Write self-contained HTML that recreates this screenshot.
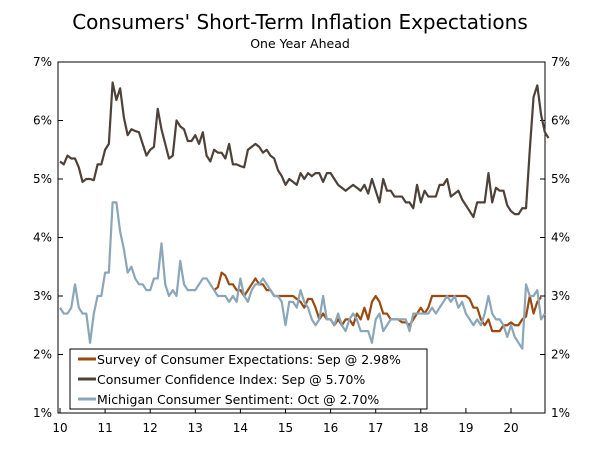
<!DOCTYPE html>
<html><head><meta charset="utf-8"><style>
body{margin:0;background:#fff;}
svg{font-family:"DejaVu Sans","Liberation Sans",sans-serif;}
</style></head><body>
<svg id="c" width="600" height="449">
<text x="300" y="29" text-anchor="middle" font-size="20" fill="#000">Consumers' Short-Term Inflation Expectations</text>
<text x="300" y="48" text-anchor="middle" font-size="12.5" fill="#000">One Year Ahead</text>
<g id="axes"></g><g id="series"></g>
<g>
<rect x="70" y="349" width="357" height="60" fill="#fff" stroke="#000" stroke-width="1"/>
<line x1="78" y1="359" x2="96" y2="359" stroke="#9a4a0f" stroke-width="3"/>
<text x="97" y="364" font-size="12.5">Survey of Consumer Expectations: Sep @ 2.98%</text>
<line x1="78" y1="379" x2="96" y2="379" stroke="#4d4139" stroke-width="3"/>
<text x="97" y="384" font-size="12.5">Consumer Confidence Index: Sep @ 5.70%</text>
<line x1="78" y1="399" x2="96" y2="399" stroke="#8aa6b8" stroke-width="3"/>
<text x="97" y="404" font-size="12.5">Michigan Consumer Sentiment: Oct @ 2.70%</text>
</g>
</svg>
<script>
const yTicks=[1,2,3,4,5,6,7];
const xTicks=[10,11,12,13,14,15,16,17,18,19,20];
const cciValues=[5.3,5.25,5.4,5.35,5.35,5.2,4.95,5.0,5.0,4.98,5.25,5.25,
5.5,5.6,6.65,6.35,6.55,6.05,5.75,5.85,5.82,5.8,5.6,5.4,
5.5,5.55,6.2,5.85,5.6,5.35,5.4,6.0,5.9,5.85,5.65,5.65,
5.75,5.6,5.8,5.4,5.3,5.5,5.45,5.45,5.35,5.6,5.25,5.25,
5.22,5.2,5.5,5.55,5.6,5.55,5.45,5.5,5.4,5.35,5.15,5.05,
4.9,5.0,4.95,4.9,5.1,5.0,5.1,5.05,5.1,5.1,4.95,5.1,
5.1,5.0,4.9,4.85,4.8,4.85,4.9,4.85,4.8,4.9,4.75,5.0,
4.8,4.6,5.0,4.8,4.8,4.7,4.7,4.7,4.6,4.6,4.5,4.9,
4.6,4.8,4.7,4.7,4.7,4.9,4.9,5.0,4.7,4.75,4.8,4.65,
4.55,4.45,4.35,4.6,4.6,4.6,5.1,4.6,4.85,4.8,4.8,4.55,
4.45,4.4,4.4,4.5,4.5,5.5,6.4,6.6,6.1,5.8,5.7];
const michValues=[2.8,2.7,2.7,2.8,3.2,2.8,2.7,2.7,2.2,2.7,3.0,3.0,
3.4,3.4,4.6,4.6,4.1,3.8,3.4,3.5,3.3,3.2,3.2,3.1,
3.1,3.3,3.3,3.9,3.2,3.0,3.1,3.0,3.6,3.2,3.1,3.1,
3.1,3.2,3.3,3.3,3.2,3.1,3.0,3.0,3.0,2.9,3.0,2.9,
3.3,3.0,2.9,3.1,3.2,3.2,3.3,3.2,3.1,3.0,3.0,2.9,
2.5,2.9,2.9,2.8,3.1,2.9,2.8,2.6,2.5,2.6,3.0,2.6,
2.6,2.5,2.7,2.5,2.4,2.6,2.7,2.6,2.4,2.4,2.4,2.2,
2.6,2.7,2.4,2.5,2.6,2.6,2.6,2.6,2.6,2.4,2.7,2.7,
2.7,2.7,2.7,2.8,2.7,2.8,2.9,3.0,2.9,3.0,2.8,2.9,
2.7,2.6,2.5,2.6,2.5,2.7,3.0,2.7,2.6,2.6,2.5,2.3,
2.5,2.3,2.2,2.1,3.2,3.0,3.0,3.1,2.6,2.7];
const sceStart=41;
const sceValues=[3.1,3.15,3.4,3.35,3.2,3.2,3.1,
3.1,3.0,3.1,3.2,3.3,3.2,3.2,3.1,3.1,3.0,3.0,3.0,
3.0,3.0,3.0,2.95,2.9,2.8,2.95,2.95,2.8,2.6,2.7,2.6,
2.6,2.5,2.6,2.5,2.6,2.6,2.5,2.7,2.6,2.8,2.6,2.9,
3.0,2.9,2.7,2.7,2.6,2.6,2.6,2.55,2.55,2.5,2.6,2.7,
2.8,2.7,2.8,3.0,3.0,3.0,3.0,3.0,3.0,3.0,3.0,3.0,
3.0,2.95,2.8,2.8,2.6,2.5,2.6,2.4,2.4,2.4,2.5,2.5,
2.55,2.5,2.5,2.6,2.65,3.0,2.7,2.9,2.98];
const L=58,R=545,T=62,B=413;
const y=v=>B-(v-1)/6*(B-T);
const x=i=>60+i*(451/120);
const NS='http://www.w3.org/2000/svg';
const ax=document.getElementById('axes'),sg=document.getElementById('series');
function mk(p,tag,a){const e=document.createElementNS(NS,tag);for(const k in a)e.setAttribute(k,a[k]);p.appendChild(e);return e;}
const frame=mk(ax,'rect',{x:L,y:T,width:R-L,height:B-T,fill:'none',stroke:'#000','stroke-width':1});


yTicks.forEach(t=>{
 mk(ax,'line',{x1:L,x2:L+5,y1:y(t),y2:y(t),stroke:'#000'});
 mk(ax,'line',{x1:R-5,x2:R,y1:y(t),y2:y(t),stroke:'#000'});
 const a=mk(ax,'text',{x:L-6,y:y(t)+4,'text-anchor':'end','font-size':12});a.textContent=t+'%';
 
 
 const b=mk(ax,'text',{x:R+6,y:y(t)+4,'font-size':12});b.textContent=t+'%';
 
 
});
xTicks.forEach(t=>{
 const xi=x((t-10)*12);
 mk(ax,'line',{x1:xi,x2:xi,y1:B,y2:B-5,stroke:'#000'});
 const a=mk(ax,'text',{x:xi,y:B+19,'text-anchor':'middle','font-size':12});a.textContent=t;
 
 
});
function line(vals,off,col,name){
 const p=mk(sg,'polyline',{points:vals.map((v,i)=>x(i+off)+','+y(v)).join(' '),fill:'none',stroke:col,'stroke-width':2.2,'stroke-linejoin':'round'});
 
 
}
line(cciValues,0,'#4d4139','cci-line');
line(sceValues,sceStart,'#9a4a0f','sce-line');
line(michValues,0,'#8aa6b8','michigan-line');
</script>
</body></html>
